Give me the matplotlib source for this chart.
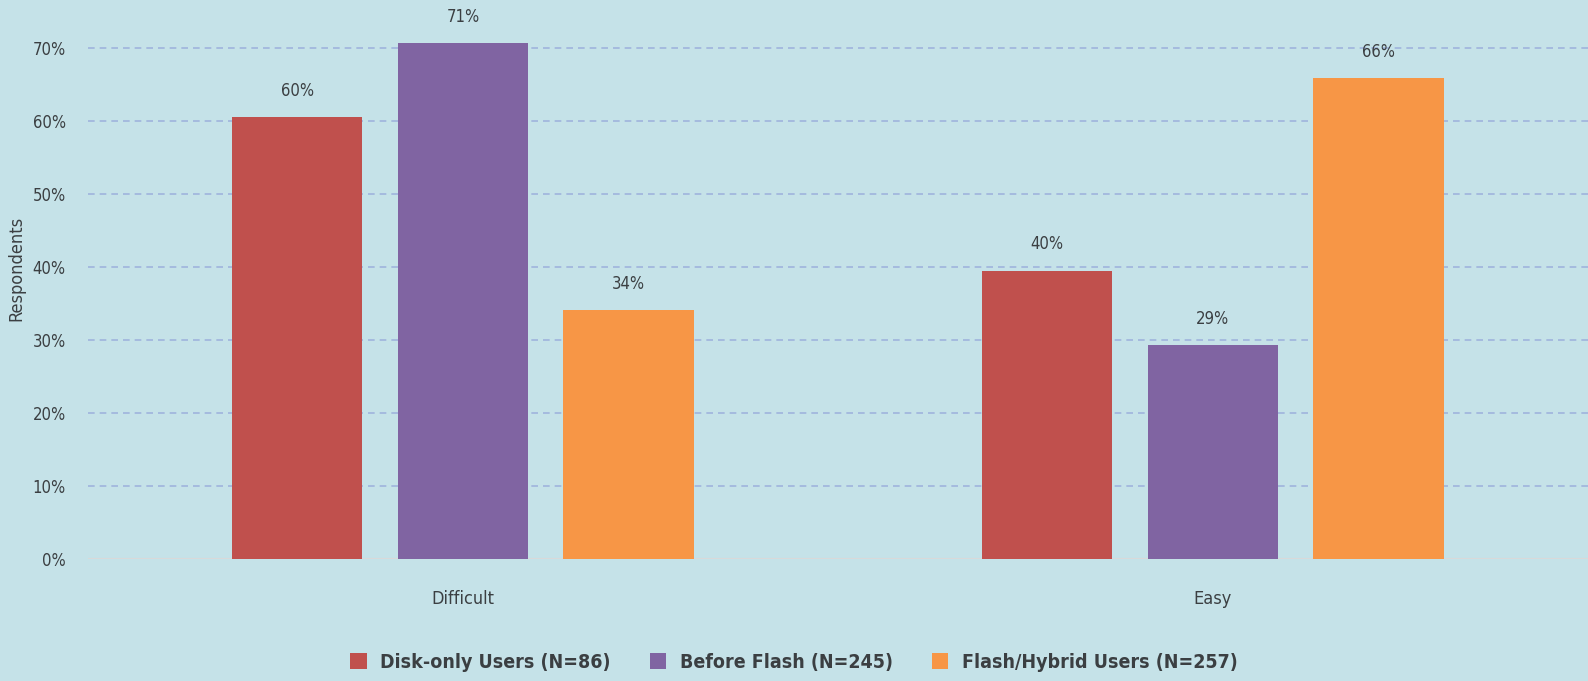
import numpy as np
import matplotlib.pyplot as plt

categories = ["Difficult", "Easy"]
series = ["Disk-only Users (N=86)", "Before Flash (N=245)", "Flash/Hybrid Users (N=257)"]
disk_only = [60.5, 39.5]
before_flash = [70.7, 29.3]
flash_hybrid = [34.1, 65.9]
colors = ["#c0504d", "#8064a2", "#f79646"]
yticks = [0, 10, 20, 30, 40, 50, 60, 70]

plt.rcParams['font.family'] = ['DejaVu Sans']
plt.rcParams['font.stretch'] = 'condensed'
txt = "#3b3f42"
bg = "#c5e2e8"

fig = plt.figure(figsize=(15.88, 6.81), dpi=100)
fig.patch.set_facecolor(bg)
ax = fig.add_axes([0.0554, 0.179, 0.9446, 0.804])
ax.set_facecolor(bg)

x = np.arange(len(categories))
width = 0.174
step = 0.221
for i, (vals, name) in enumerate(zip([disk_only, before_flash, flash_hybrid], series)):
    bars = ax.bar(x + (i - 1) * step, vals, width, color=colors[i], label=name, zorder=3)
    for b, v in zip(bars, vals):
        ax.annotate(f"{v:.0f}%", (b.get_x() + b.get_width() / 2, v),
                    xytext=(0, 19), textcoords="offset points",
                    ha="center", va="center", fontsize=12, color=txt)

ax.set_xlim(-0.5, 1.5)
ax.set_ylim(0, 75)
ax.set_yticks(yticks)
ax.set_yticklabels([f"{t}%" for t in yticks], fontsize=12, color=txt)
ax.set_xticks(x)
ax.set_xticklabels(categories, fontsize=13, color=txt)
ax.tick_params(axis="both", length=0)
ax.tick_params(axis="y", pad=16)
ax.tick_params(axis="x", pad=22)
for t in yticks[1:]:
    ax.axhline(t, color="#9fb4dc", linestyle=(0, (4, 3)), linewidth=1.2, zorder=1)
ax.axhline(0, color="#d9d9d9", linewidth=1.5, zorder=2)
for s in ax.spines.values():
    s.set_visible(False)
ax.set_ylabel("Respondents", fontsize=13, color=txt)
ax.yaxis.set_label_coords(-0.042, 0.53)

fig.legend(loc="lower center", bbox_to_anchor=(0.5, -0.012), ncol=3, frameon=False,
           prop={"size": 14, "weight": "bold", "stretch": "condensed"}, labelcolor=txt,
           handlelength=0.85, handleheight=0.85, columnspacing=2.0, handletextpad=0.7)

fig.savefig("out.png", dpi=100, facecolor=bg)
